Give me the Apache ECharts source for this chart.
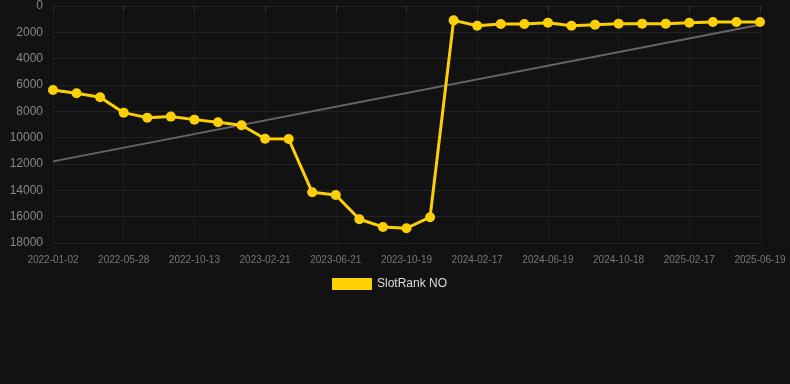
<!DOCTYPE html>
<html><head><meta charset="utf-8">
<script src="https://cdn.jsdelivr.net/npm/echarts@6/dist/echarts.min.js"></script>
<style>html,body{margin:0;padding:0;background:#121212;}#c{width:790px;height:384px;}</style>
</head><body><div id="c"></div>
<script>
const categories = ['2022-01-02','2022-02-19','2022-04-09','2022-05-28','2022-07-13','2022-08-28','2022-10-13','2022-11-25','2023-01-08','2023-02-21','2023-04-01','2023-05-11','2023-06-21','2023-07-31','2023-09-09','2023-10-19','2023-11-28','2024-01-08','2024-02-17','2024-03-29','2024-05-09','2024-06-19','2024-07-29','2024-09-08','2024-10-18','2024-11-27','2025-01-07','2025-02-17','2025-03-29','2025-05-09','2025-06-19'];
const rankValues = [6380,6630,6930,8100,8480,8400,8630,8830,9060,10080,10100,14150,14350,16200,16780,16880,16040,1090,1500,1370,1370,1270,1500,1420,1340,1340,1340,1270,1215,1215,1215];
const trendValues = [11800,null,null,null,null,null,null,null,null,null,null,null,null,null,null,null,null,null,null,null,null,null,null,null,null,null,null,null,null,null,1420];
const yTicks = {min:0,max:18000,interval:2000};
const seriesName = 'SlotRank NO';

const chart = echarts.init(document.getElementById('c'));
chart.setOption({
  backgroundColor:'#121212',
  animation:false,
  grid:{left:53,right:30,top:6,bottom:141},
  legend:{data:[seriesName],top:273,left:327,icon:'rect',itemWidth:40,itemHeight:12,itemGap:10,
    textStyle:{color:'#dddddd',fontSize:12,fontFamily:'Arial, Liberation Sans, sans-serif'}},
  xAxis:{type:'category',data:categories,boundaryGap:false,
    axisLine:{show:false},
    axisTick:{show:true,interval:2,lineStyle:{color:'#333'}},
    axisLabel:{interval:2,color:'#777',fontSize:10,margin:12,fontFamily:'Arial, Liberation Sans, sans-serif'},
    splitLine:{show:true,interval:2,lineStyle:{color:'#1c1c1c'}}},
  yAxis:{type:'value',inverse:true,min:yTicks.min,max:yTicks.max,interval:yTicks.interval,
    axisLine:{show:false},axisTick:{show:false},
    axisLabel:{color:'#888',fontSize:12,margin:10,formatter:v=>String(v),fontFamily:'Arial, Liberation Sans, sans-serif'},
    splitLine:{lineStyle:{color:'#222'}}},
  series:[
    {name:'trend',type:'line',data:trendValues,connectNulls:true,symbol:'none',
      lineStyle:{color:'#666',width:2},itemStyle:{color:'#666'},z:1},
    {name:seriesName,type:'line',data:rankValues,symbol:'circle',symbolSize:10,
      lineStyle:{color:'#FFD000',width:3},itemStyle:{color:'#FFD000'},z:2}
  ]
});
</script></body></html>
